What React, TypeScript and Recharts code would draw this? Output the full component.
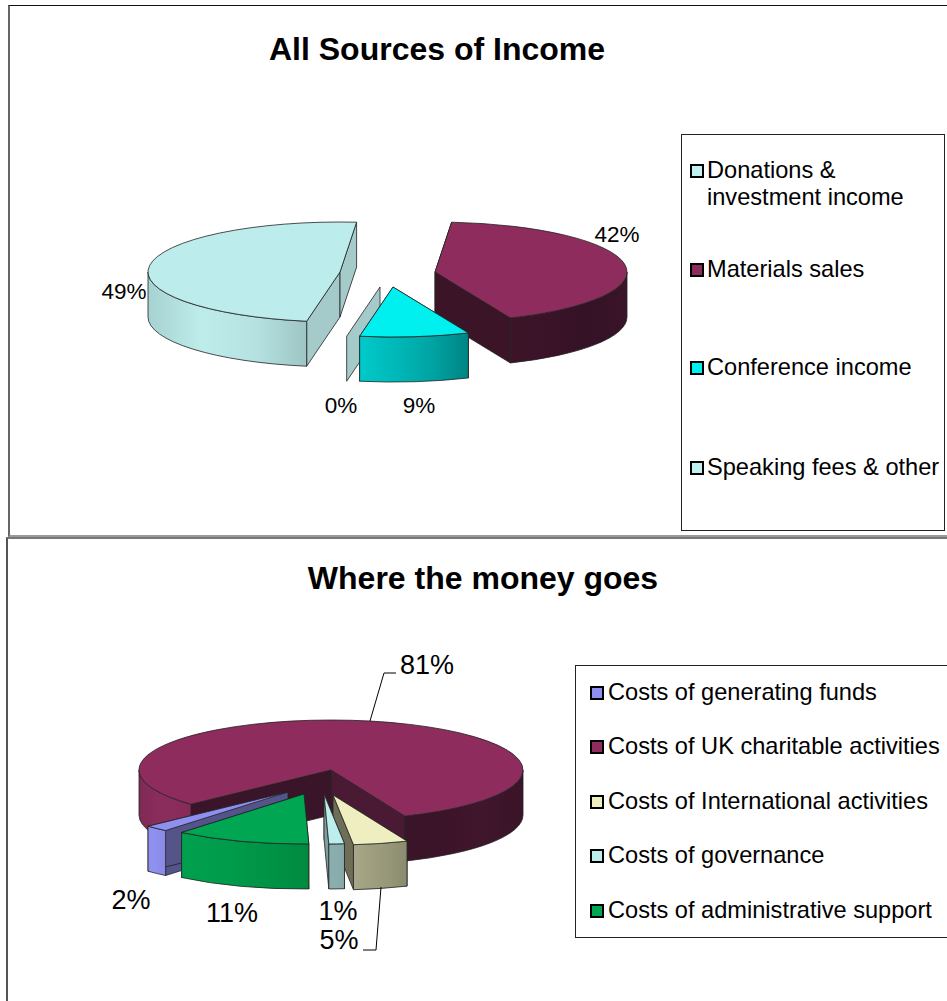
import { PieChart, Pie, Legend } from 'recharts'

const INCOME_LABELS = ['Donations & investment income', 'Materials sales', 'Conference income', 'Speaking fees & other']
// shares, the labels show them rounded
const INCOME_VALUES = [48.6, 42.2, 9.2, 0]
const COST_LABELS = [
  'Costs of generating funds',
  'Costs of UK charitable activities',
  'Costs of International activities',
  'Costs of governance',
  'Costs of administrative support',
]
const COST_VALUES = [2, 80.7, 4.6, 1.3, 11.4]

const FONT = '"Liberation Sans", Arial, sans-serif'
const RX = 192
const RY = 50
const DEPTH = 45
const NO_MARGIN = { top: 0, right: 0, bottom: 0, left: 0 }

interface SliceLook {
  top: string
  faces: [string, string]
  rims: string[][]
  explode: [number, number]
  label: [number, number]
  leader?: [number, number][]
}

// Excel-style 3D look, one entry per slice in legend order
const INCOME_LOOK: SliceLook[] = [
  {
    top: '#bcecec',
    faces: ['#a4cac9', '#a4cac9'],
    rims: [['#a6d2d1', '#bdecea', '#b6e3e2', '#9dc5c4']],
    explode: [-48, 0],
    label: [-264, 27],
  },
  {
    top: '#8e2c5e',
    faces: ['#3c1428', '#3c1428'],
    rims: [['#3c1428', '#3a1328', '#351226', '#3a1428']],
    explode: [47, 0],
    label: [229, -30],
  },
  {
    top: '#00efef',
    faces: ['#008a8a', '#008a8a'],
    rims: [['#00caca', '#00b8b8', '#00a3a3', '#008484']],
    explode: [5, 15],
    label: [31, 141],
  },
  {
    top: '#a4cac9',
    faces: ['#a4cac9', '#a4cac9'],
    rims: [],
    explode: [-8, 15],
    label: [-47, 141],
  },
]

const COST_LOOK: SliceLook[] = [
  {
    top: '#8f8ff0',
    faces: ['#54548a', '#54548a'],
    rims: [['#9090f0', '#9090f0', '#8c8ceb', '#8888e6']],
    explode: [-43, 22],
    label: [-200, 139],
  },
  {
    top: '#8e2c5e',
    faces: ['#3a1428', '#4a1a35'],
    rims: [
      ['#7e2a55', '#8a2c5c', '#8a2c5c', '#842a58'],
      ['#3a1428', '#3c1429', '#40162c', '#3a1428'],
    ],
    explode: [0, 0],
    label: [96, -96],
    leader: [[39, -49], [53, -97], [65, -97]],
  },
  {
    top: '#eeeec0',
    faces: ['#6e6e58', '#6e6e58'],
    rims: [['#a8a888', '#9f9f80', '#969678', '#8a8a6e']],
    explode: [2, 25],
    label: [8, 179],
    leader: [[50, 117], [45, 180], [32, 180]],
  },
  {
    top: '#bdeeee',
    faces: ['#7d9e9e', '#7d9e9e'],
    rims: [['#8aaeae', '#8aaeae', '#88abab', '#86a8a8']],
    explode: [-7, 24],
    label: [7, 150],
  },
  {
    top: '#00a651',
    faces: ['#007a3a', '#007a3a'],
    rims: [['#00a04f', '#009c4c', '#009345', '#008a40']],
    explode: [-27, 24],
    label: [-99, 152],
  },
]

function Slice3D(props: any, look: SliceLook[], layer: number[], prefix: string) {
  const { cx, cy, startAngle: s, endAngle: e, index } = props
  if (!layer.includes(index)) return <g />
  const item = look[index]
  const ax = cx + item.explode[0]
  const ay = cy + item.explode[1]
  const px = (a: number) => ax + RX * Math.cos((a * Math.PI) / 180)
  const py = (a: number) => ay - RY * Math.sin((a * Math.PI) / 180)
  const edge = '#222'

  const face = (a: number) =>
    `M${ax},${ay} L${px(a)},${py(a)} L${px(a)},${py(a) + DEPTH} L${ax},${ay + DEPTH} Z`

  // only the front half of the rim faces the viewer
  const rims: { d: string; id: string; stops: string[] }[] = []
  for (let k = 1; k >= -3; k--) {
    const from = Math.min(s, 360 * k)
    const to = Math.max(e, 360 * k - 180)
    if (from <= to) continue
    rims.push({
      d:
        `M${px(from)},${py(from)} A${RX},${RY} 0 0 1 ${px(to)},${py(to)} ` +
        `L${px(to)},${py(to) + DEPTH} A${RX},${RY} 0 0 0 ${px(from)},${py(from) + DEPTH} Z`,
      id: `${prefix}-${index}-${rims.length}`,
      stops: item.rims[rims.length] ?? ['#888', '#888', '#888', '#888'],
    })
  }

  const large = Math.abs(s - e) > 180 ? 1 : 0
  return (
    <g>
      <defs>
        {rims.map(r => (
          <linearGradient key={r.id} id={r.id} x1="0" y1="0" x2="1" y2="0">
            {r.stops.map((c, i) => (
              <stop key={i} offset={i / (r.stops.length - 1)} stopColor={c} />
            ))}
          </linearGradient>
        ))}
      </defs>
      <path d={face(s)} fill={item.faces[0]} stroke={edge} strokeWidth={0.8} />
      {s !== e && <path d={face(e)} fill={item.faces[1]} stroke={edge} strokeWidth={0.8} />}
      {rims.map(r => (
        <path key={r.id} d={r.d} fill={`url(#${r.id})`} stroke={edge} strokeWidth={0.8} />
      ))}
      {s !== e && (
        <path
          d={`M${ax},${ay} L${px(s)},${py(s)} A${RX},${RY} 0 ${large} 1 ${px(e)},${py(e)} Z`}
          fill={item.top}
          stroke={edge}
          strokeWidth={0.8}
        />
      )}
    </g>
  )
}

function percentLabel(props: any, look: SliceLook[], fontSize: number) {
  const { cx, cy, index, value } = props
  const item = look[index]
  return (
    <g key={index}>
      {item.leader && (
        <polyline
          points={item.leader.map(p => `${cx + p[0]},${cy + p[1]}`).join(' ')}
          fill="none"
          stroke="#000"
          strokeWidth={1}
        />
      )}
      <text
        x={cx + item.label[0]}
        y={cy + item.label[1]}
        textAnchor="middle"
        fontFamily={FONT}
        fontSize={fontSize}
        fill="#000"
      >
        {Math.round(value)}%
      </text>
    </g>
  )
}

interface LegendBoxProps {
  labels: string[]
  lines?: string[][]
  colors: string[]
  rows: number[]
  width: number
  height: number
  markerLeft: number
  textLeft: number
}

function LegendBox({ labels, lines, colors, rows, width, height, markerLeft, textLeft }: LegendBoxProps) {
  return (
    <div
      style={{
        position: 'relative',
        boxSizing: 'border-box',
        width,
        height,
        background: '#fff',
        border: '1px solid #222',
        fontFamily: FONT,
        fontSize: 23.6,
        color: '#000',
      }}
    >
      {labels.map((label, i) => (
        <div key={label}>
          <div
            style={{
              position: 'absolute',
              left: markerLeft,
              top: rows[i] + 7,
              boxSizing: 'border-box',
              width: 14,
              height: 14,
              background: colors[i],
              border: '2px solid #000',
            }}
          />
          <div
            style={{
              position: 'absolute',
              left: textLeft,
              top: rows[i],
              lineHeight: '27px',
              whiteSpace: 'pre',
            }}
          >
            {(lines?.[i] ?? [label]).join('\n')}
          </div>
        </div>
      ))}
    </div>
  )
}

const titleStyle = {
  position: 'absolute' as const,
  left: 0,
  fontFamily: FONT,
  fontWeight: 700,
  fontSize: 32,
  lineHeight: '36px',
  textAlign: 'center' as const,
  color: '#000',
}

export default function App() {
  const incomeColors = INCOME_LOOK.map(l => l.top)
  const costColors = COST_LOOK.map(l => l.top)
  const incomeData = INCOME_LABELS.map((name, i) => ({ name, value: INCOME_VALUES[i] }))
  const costData = COST_LABELS.map((name, i) => ({ name, value: COST_VALUES[i] }))
  incomeColors[0] = '#c0f0f0'
  incomeColors[3] = '#c0f0f0'

  return (
    <div style={{ position: 'fixed', inset: 0, overflow: 'hidden', background: '#fff' }}>
      <div
        style={{
          position: 'absolute',
          left: 8,
          top: 5,
          width: 960,
          height: 532,
          borderTop: '1px solid #111',
          borderLeft: '2px solid #666',
          borderBottom: '2px solid #999',
          boxSizing: 'border-box',
        }}
      />
      <div
        style={{
          position: 'absolute',
          left: 6,
          top: 537,
          width: 960,
          height: 500,
          borderTop: '2px solid #777',
          borderLeft: '2px solid #555',
          boxSizing: 'border-box',
        }}
      />

      <div style={{ position: 'absolute', left: 0, top: 0 }}>
        <PieChart width={947} height={537} margin={NO_MARGIN}>
          {/* back layer first so that the conference wedge overlaps its neighbours */}
          <Pie
            data={incomeData}
            dataKey="value"
            nameKey="name"
            cx={388}
            cy={272}
            outerRadius={RX}
            startAngle={-100}
            endAngle={-460}
            stroke="none"
            isAnimationActive={false}
            shape={(p: any) => Slice3D(p, INCOME_LOOK, [0, 1, 3], 'inc-back')}
          />
          <Pie
            data={incomeData}
            dataKey="value"
            nameKey="name"
            cx={388}
            cy={272}
            outerRadius={RX}
            startAngle={-100}
            endAngle={-460}
            stroke="none"
            isAnimationActive={false}
            labelLine={false}
            label={(p: any) => percentLabel(p, INCOME_LOOK, 22.5)}
            shape={(p: any) => Slice3D(p, INCOME_LOOK, [2], 'inc-front')}
          />
          <Legend
            wrapperStyle={{ left: 681, top: 134, width: 266, height: 397, right: 'auto', bottom: 'auto' }}
            content={() => (
              <LegendBox
                labels={INCOME_LABELS}
                lines={[['Donations &', 'investment income'], ['Materials sales'], ['Conference income'], ['Speaking fees & other']]}
                colors={incomeColors}
                rows={[22, 121, 219, 319]}
                width={264}
                height={397}
                markerLeft={8}
                textLeft={25}
              />
            )}
          />
        </PieChart>
      </div>
      <div style={{ ...titleStyle, top: 31, width: 874 }}>All Sources of Income</div>

      <div style={{ position: 'absolute', left: 0, top: 537 }}>
        <PieChart width={947} height={464} margin={NO_MARGIN}>
          <Pie
            data={costData}
            dataKey="value"
            nameKey="name"
            cx={331}
            cy={233}
            outerRadius={RX}
            startAngle={-129.6}
            endAngle={-489.6}
            stroke="none"
            isAnimationActive={false}
            shape={(p: any) => Slice3D(p, COST_LOOK, [1], 'cost-back')}
          />
          <Pie
            data={costData}
            dataKey="value"
            nameKey="name"
            cx={331}
            cy={233}
            outerRadius={RX}
            startAngle={-129.6}
            endAngle={-489.6}
            stroke="none"
            isAnimationActive={false}
            labelLine={false}
            label={(p: any) => percentLabel(p, COST_LOOK, 27)}
            shape={(p: any) => Slice3D(p, COST_LOOK, [0, 2, 3, 4], 'cost-front')}
          />
          <Legend
            wrapperStyle={{ left: 575, top: 128, width: 390, height: 273, right: 'auto', bottom: 'auto' }}
            content={() => (
              <LegendBox
                labels={COST_LABELS}
                colors={costColors}
                rows={[13, 67, 122, 176, 231]}
                width={390}
                height={273}
                markerLeft={14}
                textLeft={32}
              />
            )}
          />
        </PieChart>
      </div>
      <div style={{ ...titleStyle, top: 560, width: 966 }}>Where the money goes</div>
    </div>
  )
}
